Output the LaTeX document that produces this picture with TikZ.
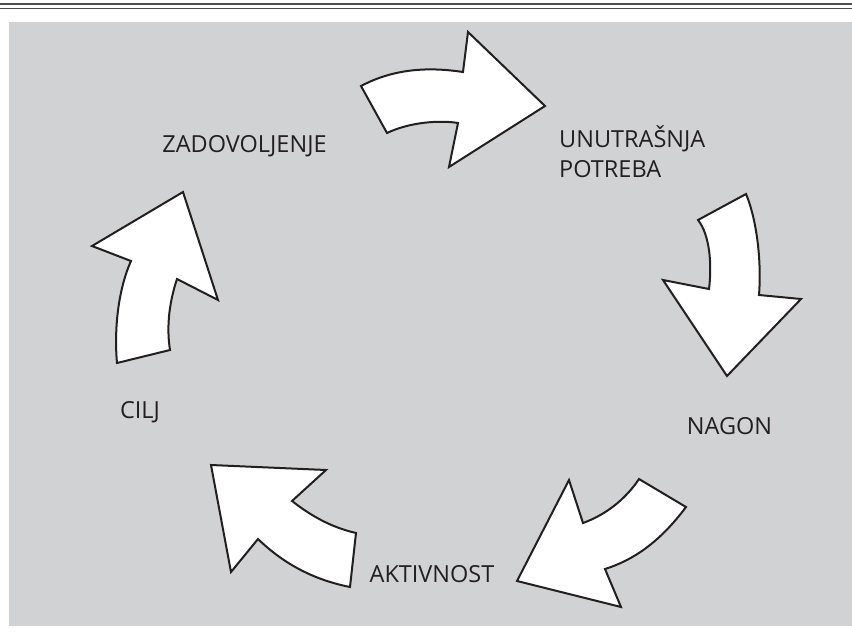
\documentclass[tikz,border=0pt]{standalone}
\usepackage{fontspec}
\setmainfont{Open Sans}
\definecolor{panel}{HTML}{D1D2D4}
\definecolor{ink}{HTML}{231F20}
\definecolor{rule}{HTML}{4D4D4F}
\begin{document}
\begin{tikzpicture}[x=1pt,y=-1pt,
  cyclearrow/.style={fill=white,draw=ink,line width=2pt,line join=miter},
  lbl/.style={text=ink,inner sep=0pt,anchor=base,font=\fontsize{23.5}{28}\selectfont}]
\useasboundingbox (0,0) rectangle (852,638);
% top rules
\draw[rule,line width=2pt] (0,4) -- (852,4);
\draw[rule,line width=1pt] (0,8.5) -- (852,8.5);
% panel
\fill[panel] (9,22) rectangle (852,626);
% arrow 1 (top)
\draw[cyclearrow] (361,86) .. controls (395,68) and (430,67) .. (463,72)
  -- (468,32) -- (545,106) -- (449,167) -- (458,123)
  .. controls (440,120) and (410,122) .. (387,133) -- cycle;
% arrow 2 (right)
\draw[cyclearrow] (698,220) -- (746,194)
  .. controls (755,215) and (762,255) .. (759,295)
  -- (801,299) -- (727,376) -- (663,280) -- (709,289)
  .. controls (712,265) and (710,235) .. cycle;
% arrow 3 (bottom right)
\draw[cyclearrow] (639,479) -- (686,507)
  .. controls (665,535) and (640,558) .. (605,569)
  -- (621,607) -- (517,581) -- (569,480) -- (583,523)
  .. controls (605,515) and (625,500) .. cycle;
% arrow 4 (bottom left)
\draw[cyclearrow] (211,465) -- (326,470) -- (292,501)
  .. controls (310,515) and (330,527) .. (356,533)
  -- (350,587)
  .. controls (315,580) and (285,565) .. (258,539)
  -- (231,572) -- cycle;
% arrow 5 (left)
\draw[cyclearrow] (183,192) -- (218,300) -- (177,279)
  .. controls (170,300) and (166,325) .. (170,350)
  -- (117,363)
  .. controls (114,330) and (118,290) .. (131,261)
  -- (92,246) -- cycle;
% labels
\node[lbl] (zad) at (244.5,152) {ZADOVOLJENJE};
\node[lbl,anchor=base west] (unu) at (559,147) {UNUTRAŠNJA};
\node[lbl,anchor=base west] (pot) at (559,177) {POTREBA};
\node[lbl] (nag) at (729.5,434) {NAGON};
\node[lbl] (akt) at (432,582) {AKTIVNOST};
\node[lbl] (cilj) at (140,418) {CILJ};
\end{tikzpicture}
\end{document}
